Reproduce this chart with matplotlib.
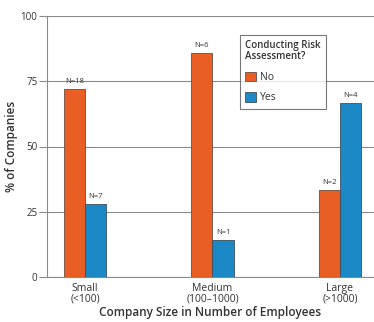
import matplotlib.pyplot as plt
import numpy as np
from matplotlib.patches import Patch

categories = ['Small\n(<100)', 'Medium\n(100\u20131000)', 'Large\n(>1000)']
no_counts = [18, 6, 2]
yes_counts = [7, 1, 4]
totals = [n + y for n, y in zip(no_counts, yes_counts)]
no_pct = [100 * n / t for n, t in zip(no_counts, totals)]
yes_pct = [100 * y / t for y, t in zip(yes_counts, totals)]
yticks = [0, 25, 50, 75, 100]

orange = '#E95E25'
blue = '#1C88C6'
grid_col = '#8a8a8a'
txt = '#333333'

plt.rcParams['font.family'] = ['Open Sans', 'DejaVu Sans']

fig = plt.figure(figsize=(3.74, 3.22), dpi=100)
ax = fig.add_axes([47 / 374, 1 - 277 / 322, 1 - 47 / 374, 261 / 322])

x = np.arange(len(categories))
w = 0.168
b1 = ax.bar(x - w / 2, no_pct, w, color=orange, edgecolor='#6e4a3e', linewidth=0.6, zorder=3)
b2 = ax.bar(x + w / 2, yes_pct, w, color=blue, edgecolor='#3c4f5c', linewidth=0.6, zorder=3)

for bars, counts in ((b1, no_counts), (b2, yes_counts)):
    for r, n in zip(bars, counts):
        ax.text(r.get_x() + r.get_width() / 2, r.get_height() + 1.5, f'N={n}',
                ha='center', va='bottom', fontsize=5.5, color=txt)

ax.set_ylim(0, 100)
ax.set_xlim(-0.298, 2.267)
ax.set_yticks(yticks)
ax.set_yticklabels([str(t) for t in yticks], fontsize=7, color=txt)
ax.set_xticks(x)
ax.set_xticklabels(categories, fontsize=7.5, color=txt, linespacing=1.0)
ax.tick_params(axis='x', length=0, pad=4)
ax.tick_params(axis='y', length=6, color=grid_col, width=0.8, pad=1)
ax.yaxis.grid(True, color=grid_col, linewidth=0.8, zorder=0)
for s in ('top', 'right'):
    ax.spines[s].set_visible(False)
for s in ('left', 'bottom'):
    ax.spines[s].set_color(grid_col)
    ax.spines[s].set_linewidth(0.8)

ax.set_ylabel('% of Companies', fontsize=8.5, color=txt, fontweight='semibold', labelpad=2)
ax.set_xlabel('Company Size in Number of Employees', fontsize=8.5, color=txt,
              fontweight='semibold', labelpad=1)

handles = [Patch(facecolor=orange, edgecolor='#6e4a3e', linewidth=0.6, label='No'),
           Patch(facecolor=blue, edgecolor='#3c4f5c', linewidth=0.6, label='Yes')]
leg = ax.legend(handles=handles, title='Conducting Risk\nAssessment?', loc='upper left',
                bbox_to_anchor=((240 - 47) / 327, 1 - (35 - 16) / 261),
                fontsize=7.5, title_fontsize=7, frameon=True, fancybox=False,
                handlelength=1.0, handleheight=1.0, handletextpad=0.4,
                borderpad=0.5, labelspacing=0.9, alignment='left', borderaxespad=0)
leg.get_frame().set_edgecolor('#555555')
leg.get_frame().set_linewidth(0.8)
leg.get_title().set_fontweight('semibold')
leg.get_title().set_color(txt)
leg.get_title().set_linespacing(1.0)
for t in leg.get_texts():
    t.set_color(txt)
leg.set_zorder(5)

fig.savefig('out.png', dpi=100)
